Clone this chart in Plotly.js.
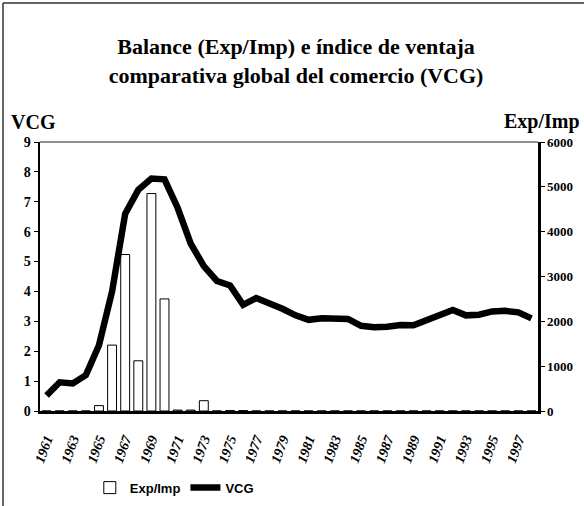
<!DOCTYPE html>
<html>
<head>
<meta charset="utf-8">
<script src="https://cdn.plot.ly/plotly-3.0.1.min.js"></script>
<style>html,body{margin:0;padding:0;background:#fff;}#chart{width:584px;height:506px;}</style>
</head>
<body>
<div id="chart"></div>
<script>
const years = ["1961","1962","1963","1964","1965","1966","1967","1968","1969","1970",
  "1971","1972","1973","1974","1975","1976","1977","1978","1979","1980",
  "1981","1982","1983","1984","1985","1986","1987","1988","1989","1990",
  "1991","1992","1993","1994","1995","1996","1997","1998"];
const vcg = [0.52,0.96,0.92,1.2,2.2,4.0,6.6,7.4,7.78,7.75,
  6.8,5.6,4.85,4.35,4.2,3.55,3.78,3.62,3.42,3.2,
  3.05,3.1,3.1,3.08,2.85,2.8,2.82,2.88,2.87,3.05,
  3.18,3.38,3.2,3.22,3.33,3.35,3.3,3.1];
const expImp = [0,0,0,0,120,1470,3490,1120,4850,2500,
  20,20,230,0,8,8,0,0,0,0,
  0,0,0,0,0,0,0,0,0,0,
  0,0,0,0,0,0,0,0];
const yearTicks = ["1961","1963","1965","1967","1969","1971","1973","1975","1977","1979",
  "1981","1983","1985","1987","1989","1991","1993","1995","1997"];
const vcgTicks = [0,1,2,3,4,5,6,7,8,9];
const expTicks = [0,1000,2000,3000,4000,5000,6000];

const serif = "Liberation Serif, Times New Roman, serif";

const traces = [
  {type:"bar", name:"Exp/Imp", x:years, y:expImp, yaxis:"y",
   marker:{color:"#ffffff", line:{color:"#000000", width:1}}},
  {type:"scatter", mode:"lines", name:"VCG", x:years, y:vcg, yaxis:"y2",
   line:{color:"#000000", width:6.5}}
];

const layout = {
  width:584, height:506,
  paper_bgcolor:"#ffffff", plot_bgcolor:"#ffffff",
  margin:{l:40, r:46, t:142, b:95, autoexpand:false},
  bargap:0.32,
  showlegend:true,
  title:{text:"<b>Balance (Exp/Imp) e índice de ventaja<br>comparativa global del comercio (VCG)</b>",
    font:{family:serif, size:22, color:"#000"}, x:0.507, xref:"container", xanchor:"center",
    y:0.893, yref:"container", yanchor:"top"},
  xaxis:{type:"category", tickmode:"array", tickvals:yearTicks, ticktext:yearTicks, automargin:false,
    tickangle:-70, tickfont:{family:serif, size:14, color:"#000", weight:"bold", style:"italic"},
    ticklabelstandoff:12,
    showline:true, linecolor:"#000", linewidth:2.5, ticks:"", showgrid:false, zeroline:false,
    fixedrange:true},
  yaxis:{side:"right", range:[0,6000], tickmode:"array", tickvals:expTicks, automargin:false,
    tickfont:{family:serif, size:13, color:"#000", weight:"bold"},
    showline:true, linecolor:"#000", linewidth:2.5, ticks:"outside", ticklen:4, tickcolor:"#000",
    showgrid:false, zeroline:false},
  yaxis2:{overlaying:"y", side:"left", range:[0,9], tickmode:"array", tickvals:vcgTicks, automargin:false,
    tickfont:{family:serif, size:14, color:"#000", weight:"bold"},
    showline:true, linecolor:"#000", linewidth:2.5, ticks:"outside", ticklen:4, tickcolor:"#000",
    showgrid:false, zeroline:false},
  legend:{orientation:"h", x:0.1, xanchor:"left", y:-0.285, yanchor:"middle",
    font:{family:"Liberation Sans Narrow, Liberation Sans, Arial, sans-serif", size:13, color:"#000", weight:"bold"},
    bgcolor:"rgba(0,0,0,0)", itemwidth:30, tracegroupgap:0},
  annotations:[
    {text:"<b>VCG</b>", xref:"paper", yref:"paper", x:-0.062, y:1.075, xanchor:"left", yanchor:"middle",
     showarrow:false, font:{family:serif, size:20, color:"#000"}},
    {text:"<b>Exp/Imp</b>", xref:"paper", yref:"paper", x:1.088, y:1.075, xanchor:"right", yanchor:"middle",
     showarrow:false, font:{family:serif, size:20, color:"#000"}}
  ],
  shapes:[
    {type:"line", xref:"paper", yref:"paper", x0:0, x1:1, y0:1, y1:1, line:{color:"#222", width:1}},
    {type:"line", xref:"paper", yref:"paper", x0:-0.0743, x1:-0.0743, y0:1.5167, y1:-0.4, line:{color:"#333", width:1.5}},
    {type:"line", xref:"paper", yref:"paper", x0:-0.0743, x1:1.1, y0:1.5167, y1:1.5167, line:{color:"#333", width:1.5}}
  ]
};

Plotly.newPlot("chart", traces, layout, {displayModeBar:false, staticPlot:true});
</script>
</body>
</html>
